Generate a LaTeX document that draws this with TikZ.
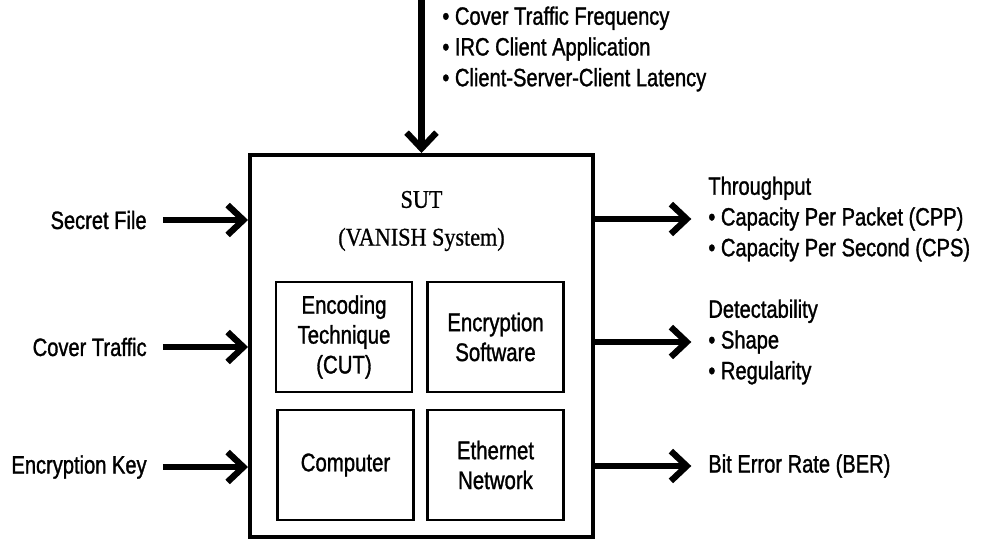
\documentclass[tikz,border=0pt]{standalone}
\usepackage{fontspec}
\setmainfont{Liberation Sans}[FakeStretch=0.8, FakeBold=1.2]
\newfontfamily\titlefont{Liberation Serif}[FakeStretch=0.87, FakeBold=0.8]
\usetikzlibrary{arrows.meta}

\begin{document}
\begin{tikzpicture}[x=0.02cm, y=-0.02cm,
    label text/.style={font=\fontsize{14.3}{17.5}\selectfont, inner sep=0pt},
    part/.style={draw, line width=1.5pt, minimum width=2.72cm, minimum height=2.2cm,
        align=center, font=\fontsize{14.5}{17}\selectfont},
    flow/.style={line width=3.6pt, -{Straight Barb[length=9pt, width=17pt]}}]
        \useasboundingbox (0,0) rectangle (982,540);

        % Define the system under test
        \node[draw, line width=2.3pt, minimum width=6.86cm, minimum height=7.64cm] (sut) at (421.5,346) {};
        \node[align=center, font=\titlefont\fontsize{14.5}{21.5}\selectfont] (title) at (421.5,221) {SUT\\(VANISH System)};

        % Define the parts inside
        \node[part] (encoding) at (344,337) {Encoding\\Technique\\(CUT)};
        \node[part] (software) at (495.5,337) {Encryption\\Software};
        \node[part] (computer) at (345.5,465) {Computer};
        \node[part] (network) at (495.5,465) {Ethernet\\Network};

        % Define the inputs
        \node[label text, anchor=east] (secret) at (147,220) {Secret File};
        \node[label text, anchor=east] (cover) at (147,347) {Cover Traffic};
        \node[label text, anchor=east] (key) at (147,467) {Encryption Key};
        \node[label text, anchor=west, align=left] (factors) at (442,49) {\textbullet\ Cover Traffic Frequency\\\textbullet\ IRC Client Application\\\textbullet\ Client-Server-Client Latency};
        \coordinate (topin) at (421.5,0);

        % Define the outputs
        \node[label text, anchor=west, align=left] (thru) at (708,219) {Throughput\\\textbullet\ Capacity Per Packet (CPP)\\\textbullet\ Capacity Per Second (CPS)};
        \node[label text, anchor=west, align=left] (detect) at (708,342) {Detectability\\\textbullet\ Shape\\\textbullet\ Regularity};
        \node[label text, anchor=west] (ber) at (708,466) {Bit Error Rate (BER)};

        % Define the arrows
        \draw[flow, shorten <=9pt] (secret.east) -- (secret -| sut.west);
        \draw[flow, shorten <=9pt] (cover.east) -- (cover -| sut.west);
        \draw[flow, shorten <=9pt] (key.east) -- (key -| sut.west);
        \draw[flow] (topin) -- (sut.north);
        \draw[flow, shorten >=9.5pt] (thru -| sut.east) -- (thru.west);
        \draw[flow, shorten >=9.5pt] (detect -| sut.east) -- (detect.west);
        \draw[flow, shorten >=9.5pt] (ber -| sut.east) -- (ber.west);

    \end{tikzpicture}
\end{document}
